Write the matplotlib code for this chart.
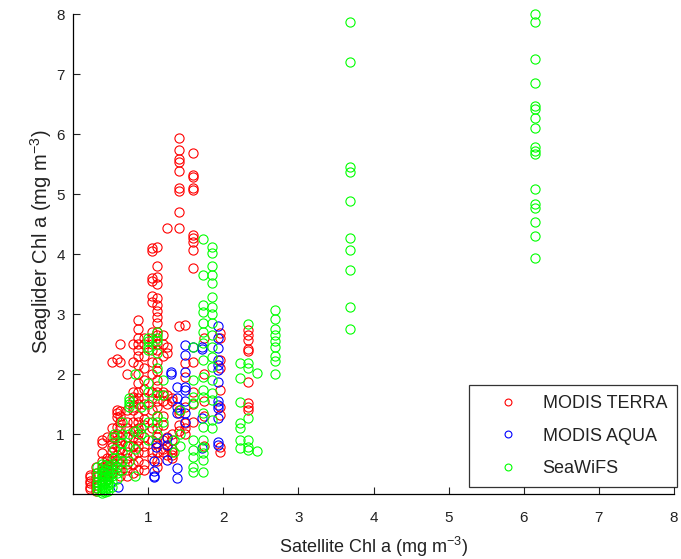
import numpy as np
import matplotlib
matplotlib.use("Agg")
import matplotlib.pyplot as plt

# Seaglider vs satellite chlorophyll match-ups, grouped by satellite value
terra_sat = [0.22, 0.30, 0.38, 0.45, 0.52, 0.58, 0.63, 0.72, 0.80, 0.87, 0.95,
             1.05, 1.12, 1.20, 1.25, 1.32, 1.41, 1.49, 1.60, 1.75, 1.96, 2.33]
terra_glider = [
    [0.32, 0.28, 0.22, 0.18, 0.12, 0.08],
    [0.45, 0.35, 0.28, 0.20, 0.15, 0.10, 0.05],
    [0.90, 0.85, 0.68, 0.55, 0.45, 0.38, 0.30, 0.22],
    [0.95, 0.60, 0.55, 0.50, 0.42, 0.35, 0.30, 0.25],
    [2.20, 1.10, 0.95, 0.85, 0.78, 0.70, 0.60, 0.50, 0.42, 0.35],
    [2.25, 1.40, 1.35, 1.28, 1.12, 1.00, 0.90, 0.80, 0.65, 0.55, 0.45],
    [2.50, 2.20, 1.38, 1.30, 1.20, 1.10, 0.95, 0.85, 0.75, 0.60, 0.50, 0.40, 0.30],
    [2.00, 1.40, 1.20, 1.10, 0.95, 0.80, 0.70, 0.60, 0.50, 0.40, 0.30],
    [2.50, 2.20, 1.70, 1.62, 1.55, 1.45, 1.40, 1.20, 1.05, 0.95, 0.80, 0.65, 0.50, 0.35],
    [2.90, 2.75, 2.60, 2.50, 2.40, 2.30, 2.15, 2.00, 1.85, 1.70, 1.60, 1.50, 1.30,
     1.20, 1.10, 1.00, 0.90, 0.80, 0.70, 0.55, 0.40],
    [2.60, 2.50, 2.30, 2.10, 1.90, 1.75, 1.60, 1.50, 1.40, 1.25, 1.15, 0.95, 0.80,
     0.70, 0.50, 0.40],
    [4.10, 4.05, 3.60, 3.55, 3.30, 3.20, 2.70, 2.60, 2.50, 2.40, 2.20, 2.00, 1.70,
     1.60, 1.40, 1.20, 1.10, 0.90, 0.70, 0.60],
    [4.12, 3.80, 3.62, 3.50, 3.27, 3.15, 3.05, 2.95, 2.85, 2.70, 2.65, 2.50, 2.40,
     2.20, 2.05, 1.90, 1.80, 1.70, 1.55, 1.45, 1.30, 1.10, 0.95, 0.85, 0.70, 0.55, 0.45],
    [2.65, 2.50, 2.30, 1.70, 1.65, 1.55, 1.30, 1.15, 0.90, 0.75, 0.70],
    [4.43, 2.45, 2.35, 1.65, 1.50, 0.95, 0.80, 0.65],
    [1.60, 1.55, 1.00, 0.90, 0.75, 0.70, 0.65, 0.60],
    [5.93, 5.73, 5.58, 5.53, 5.38, 5.10, 5.05, 4.70, 4.43, 2.80, 1.40, 1.35, 1.15, 1.05],
    [2.82, 2.18, 1.95, 1.45, 1.18, 1.10, 1.00],
    [5.68, 5.32, 5.28, 5.10, 5.07, 4.32, 4.27, 4.20, 4.07, 3.77, 2.20, 1.70, 1.50, 1.20],
    [2.60, 2.00, 1.55, 1.30, 0.80],
    [2.68, 2.60, 2.23, 2.10, 1.73, 1.45, 1.32, 0.78, 0.70],
    [2.73, 2.65, 2.57, 2.42, 2.38, 1.87, 1.52, 1.45, 1.40],
]

aqua_sat = [0.60, 1.08, 1.10, 1.25, 1.30, 1.38, 1.49, 1.60, 1.72, 1.93]
aqua_glider = [
    [0.12],
    [0.55, 0.38, 0.30, 0.28],
    [0.85, 0.78],
    [0.93, 0.82, 0.57],
    [2.03, 2.00],
    [1.78, 1.60, 1.45, 1.35, 0.43, 0.27],
    [2.48, 2.32, 2.03, 1.78, 1.73, 1.55, 1.35, 1.20],
    [2.45],
    [2.45, 2.42, 1.27, 0.77],
    [2.80, 2.60, 2.43, 2.23, 2.15, 2.07, 1.87, 1.55, 1.48, 1.43, 1.27, 0.87, 0.82],
]

seawifs_sat = [0.32, 0.38, 0.42, 0.47, 0.52, 0.55, 0.58, 0.65, 0.75, 0.83, 0.90,
               1.00, 1.12, 1.20, 1.35, 1.42, 1.60, 1.73, 1.85, 2.22, 2.33, 2.45,
               2.69, 3.69, 6.15]
seawifs_glider = [
    [0.45, 0.35, 0.28, 0.20, 0.15, 0.10, 0.05],
    [0.50, 0.42, 0.35, 0.30, 0.25, 0.20, 0.15, 0.10, 0.05, 0.02],
    [0.48, 0.40, 0.33, 0.28, 0.22, 0.18, 0.12, 0.08, 0.03],
    [0.45, 0.38, 0.30, 0.25, 0.20, 0.15, 0.10, 0.05],
    [0.50, 0.40, 0.30, 0.20, 0.12],
    [1.00, 0.95, 0.75, 0.60],
    [0.55, 0.45, 0.35, 0.25],
    [1.20, 1.00, 0.85, 0.70, 0.55, 0.40],
    [1.60, 1.55, 1.50, 1.45, 1.00, 0.80, 0.55],
    [2.00, 1.05, 0.75, 0.30],
    [1.45, 1.10, 1.00],
    [2.60, 2.55, 2.45, 2.40, 1.85, 1.70, 1.50, 1.20, 0.90],
    [2.70, 2.60, 2.55, 2.35, 2.10, 1.65, 1.30, 1.20, 1.00],
    [1.90, 1.65, 1.20],
    [0.90, 0.70],
    [1.40, 1.00, 0.80],
    [2.45, 1.90, 1.62, 1.52, 0.90, 0.73, 0.62, 0.45, 0.37],
    [4.25, 3.65, 3.15, 3.03, 2.85, 2.70, 2.52, 2.23, 1.95, 1.73, 1.62, 1.35, 1.12,
     0.90, 0.78, 0.68, 0.57, 0.37],
    [4.12, 4.02, 3.80, 3.65, 3.52, 3.28, 3.12, 3.00, 2.85, 2.65, 2.45, 2.28, 2.12,
     1.90, 1.68, 1.57, 1.23, 1.10],
    [2.18, 1.93, 1.53, 1.18, 1.10, 0.90, 0.77],
    [2.83, 2.18, 2.10, 1.27, 0.90, 0.78, 0.73],
    [2.02, 0.72],
    [3.07, 2.92, 2.75, 2.65, 2.55, 2.45, 2.30, 2.22, 2.00],
    [7.87, 7.20, 5.45, 5.37, 4.88, 4.27, 4.07, 3.73, 3.12, 2.75],
    [8.00, 7.87, 7.25, 6.85, 6.47, 6.42, 6.26, 6.10, 5.78, 5.72, 5.66, 5.08, 4.84,
     4.77, 4.53, 4.30, 3.93],
]

labels = ["MODIS TERRA", "MODIS AQUA", "SeaWiFS"]
colors = [(1, 0, 0), (0, 0, 1), (0, 1, 0)]


def flatten(sat, glider):
    xs, ys = [], []
    for s, g in zip(sat, glider):
        xs.extend([s] * len(g))
        ys.extend(g)
    return np.array(xs), np.array(ys)


plt.rcParams["font.family"] = "Liberation Sans"
plt.rcParams["mathtext.default"] = "regular"

fig = plt.figure(figsize=(6.81, 5.59), dpi=100)
ax = fig.add_axes([73 / 681, 65 / 559, 601 / 681, 480 / 559])

groups = [(terra_sat, terra_glider), (aqua_sat, aqua_glider), (seawifs_sat, seawifs_glider)]
for (sat, glider), lab, col in zip(groups, labels, colors):
    x, y = flatten(sat, glider)
    ax.plot(x, y, "o", mfc="none", mec=col, ms=6.6, mew=0.8, label=lab,
            linestyle="none", clip_on=False)

ax.set_xlim(0, 8)
ax.set_ylim(0, 8)
ax.set_xticks(range(1, 9))
ax.set_yticks(range(1, 9))
ax.tick_params(direction="in", length=5, width=0.8, labelsize=11, colors="#222222")
ax.tick_params(axis="x", pad=12)
ax.tick_params(axis="y", pad=6)
for side in ("top", "right"):
    ax.spines[side].set_visible(False)
for side in ("left", "bottom"):
    ax.spines[side].set_linewidth(0.9)

ax.set_xlabel("Satellite Chl a (mg m$^{-3}$)", fontsize=13, color="#222222")
ax.set_ylabel("Seaglider Chl a (mg m$^{-3}$)", fontsize=14.5, color="#222222")
ax.xaxis.set_label_coords(0.5, -0.085)
ax.yaxis.set_label_coords(-0.032, 0.525)

leg = ax.legend(loc="lower right", bbox_to_anchor=(1.005, 0.015), frameon=True,
                fancybox=False, fontsize=13, handlelength=3.3, handletextpad=0.25,
                labelspacing=0.85, borderpad=0.55, borderaxespad=0,
                markerscale=0.75)
leg.get_frame().set_edgecolor("black")
leg.get_frame().set_linewidth(0.9)
for t in leg.get_texts():
    t.set_color("#222222")

fig.savefig("out.png", dpi=100)
